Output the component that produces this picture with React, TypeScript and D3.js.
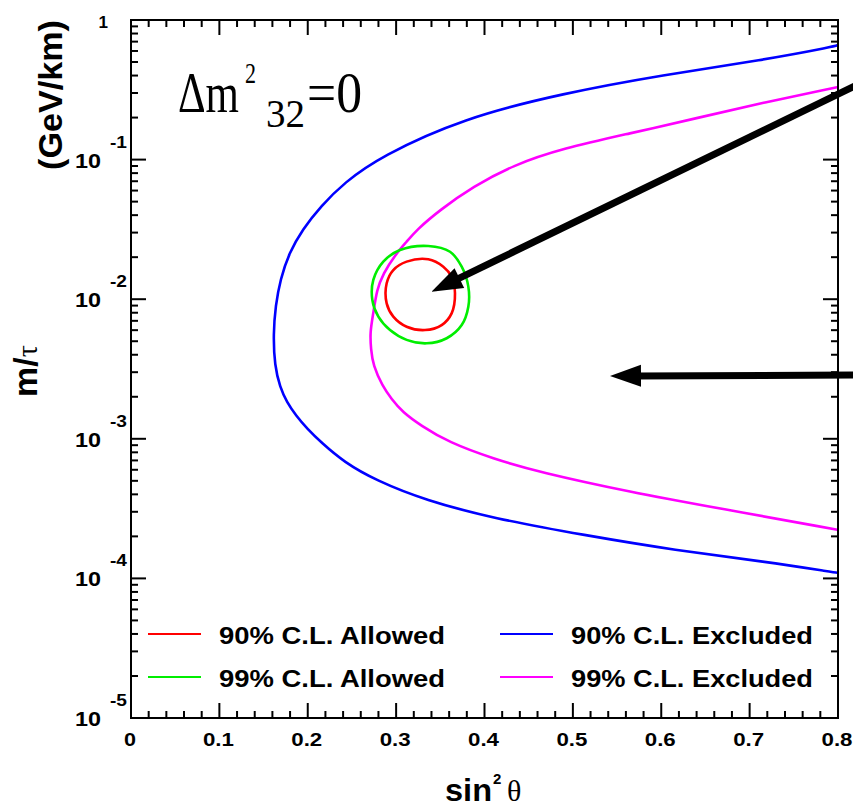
import React from "react";
import * as d3 from "d3";

// ---- data (sin^2θ, m/τ in GeV/km) ----
const excluded90: [number, number][] = [
  [0.8, 0.661], [0.796, 0.646], [0.7155, 0.517], [0.602, 0.404], [0.489, 0.2985],
  [0.376, 0.198], [0.2818, 0.105], [0.241, 0.0681], [0.215, 0.0465], [0.194, 0.0316],
  [0.179, 0.0215], [0.169, 0.0139], [0.1635, 0.00895], [0.161, 0.00562], [0.1625, 0.00334],
  [0.1686, 0.00234], [0.1763, 0.00183], [0.1866, 0.00147], [0.1995, 0.001178], [0.2149, 0.000946],
  [0.241, 0.000681], [0.277, 0.000504], [0.333, 0.000363], [0.41, 0.000269], [0.513, 0.000204],
  [0.616, 0.000159], [0.719, 0.0001315], [0.796, 0.0001104], [0.8, 0.0001096],
];
const excluded99: [number, number][] = [
  [0.8, 0.331], [0.793, 0.324], [0.7155, 0.256], [0.64, 0.198], [0.5646, 0.154],
  [0.489, 0.1205], [0.4326, 0.0914], [0.387, 0.064], [0.3496, 0.0436], [0.323, 0.0313],
  [0.3119, 0.0258], [0.2987, 0.0207], [0.2855, 0.0153], [0.278, 0.01164], [0.2742, 0.00792],
  [0.2704, 0.00578], [0.2715, 0.0044], [0.274, 0.00334], [0.2844, 0.0024], [0.2947, 0.00193],
  [0.3074, 0.00155], [0.328, 0.001245], [0.359, 0.000946], [0.41, 0.000719], [0.4618, 0.000578],
  [0.5646, 0.000416], [0.6675, 0.000316], [0.796, 0.000225], [0.8, 0.000223],
];
const allowed90: [number, number][] = [
  [0.3364, 0.01932], [0.3534, 0.0171], [0.3628, 0.01449], [0.3666, 0.01102], [0.3628, 0.00792],
  [0.3515, 0.00653], [0.3327, 0.00601], [0.3119, 0.00635], [0.2968, 0.0075], [0.2893, 0.00933],
  [0.2893, 0.013], [0.2968, 0.01618], [0.3119, 0.01858],
];
const allowed99: [number, number][] = [
  [0.3364, 0.02404], [0.361, 0.02188], [0.3742, 0.0171], [0.3817, 0.0123], [0.3817, 0.00883],
  [0.3742, 0.00653], [0.3572, 0.00525], [0.3346, 0.00483], [0.3119, 0.00511], [0.2931, 0.00601],
  [0.2799, 0.0075], [0.2731, 0.00986], [0.2742, 0.01374], [0.2855, 0.01858], [0.3044, 0.02249],
];
const xTicks = [0, 0.1, 0.2, 0.3, 0.4, 0.5, 0.6, 0.7, 0.8];
const xTickLabels = ["0", "0.1", "0.2", "0.3", "0.4", "0.5", "0.6", "0.7", "0.8"];
const yDecades = [1e-5, 1e-4, 1e-3, 1e-2, 1e-1, 1];
const yExponents = ["-5", "-4", "-3", "-2", "-1", "0"];
const legendLabels = ["90% C.L. Allowed", "99% C.L. Allowed", "90% C.L. Excluded", "99% C.L. Excluded"];
const legendColors = ["#ff0000", "#00ee00", "#0000ff", "#ff00ff"];
// annotation arrows: [start, tip] in data coordinates
const arrows: [[number, number], [number, number]][] = [
  [[0.8192, 0.3367], [0.34, 0.01132]],
  [[0.8192, 0.00286], [0.542, 0.002818]],
];

const SANS = "'Liberation Sans', Arial, Helvetica, sans-serif";
const SERIF = "'Liberation Serif', 'Times New Roman', serif";

export default function App() {
  const W = 853, H = 808;
  const L = 131, R = 838, T = 20, B = 718;
  const x = d3.scaleLinear().domain([0, 0.8]).range([L, R]);
  const y = d3.scaleLog().domain([1e-5, 1]).range([B, T]);

  const open = d3.line<[number, number]>().x(d => x(d[0])).y(d => y(d[1])).curve(d3.curveBasis);
  const closed = d3.line<[number, number]>().x(d => x(d[0])).y(d => y(d[1])).curve(d3.curveCatmullRomClosed.alpha(0.5));

  const xMinor = d3.range(0, 0.8001, 0.02).filter(v => Math.abs(v * 10 - Math.round(v * 10)) > 1e-6);
  const yMinor: number[] = [];
  for (let e = -5; e < 0; e++) for (let k = 2; k <= 9; k++) yMinor.push(k * Math.pow(10, e));

  const tickStroke = { stroke: "#000", strokeWidth: 2 };

  return (
    <svg width={W} height={H} style={{ position: "absolute", left: 0, top: 0, background: "#fff" }}>
      <defs>
        <clipPath id="plot">
          <rect x={L} y={T} width={R - L} height={B - T} />
        </clipPath>
      </defs>
      <rect x={0} y={0} width={W} height={H} fill="#fff" />

      {/* curves */}
      <g clipPath="url(#plot)" fill="none" strokeWidth={2.6} strokeLinejoin="round">
        <path d={open(excluded90) || ""} stroke="#0000ff" />
        <path d={open(excluded99) || ""} stroke="#ff00ff" />
        <path d={closed(allowed99) || ""} stroke="#00ee00" />
        <path d={closed(allowed90) || ""} stroke="#ff0000" />
      </g>

      {/* frame */}
      <rect x={L} y={T} width={R - L} height={B - T} fill="none" stroke="#000" strokeWidth={2} />

      {/* x ticks */}
      {xTicks.map(v => (
        <g key={"xt" + v}>
          <line x1={x(v)} x2={x(v)} y1={B} y2={B - 15} {...tickStroke} />
          <line x1={x(v)} x2={x(v)} y1={T} y2={T + 15} {...tickStroke} />
        </g>
      ))}
      {xMinor.map(v => (
        <g key={"xm" + v}>
          <line x1={x(v)} x2={x(v)} y1={B} y2={B - 7} {...tickStroke} />
          <line x1={x(v)} x2={x(v)} y1={T} y2={T + 7} {...tickStroke} />
        </g>
      ))}
      {xTicks.map((v, i) => (
        <text key={"xl" + v} x={x(v) - 1} y={746} textAnchor="middle" fontFamily={SANS} fontWeight="bold" fontSize={18}
          textLength={i === 0 ? 12 : 31} lengthAdjust="spacingAndGlyphs">{xTickLabels[i]}</text>
      ))}

      {/* y ticks */}
      {yDecades.map(v => (
        <g key={"yt" + v}>
          <line x1={L} x2={L + 15} y1={y(v)} y2={y(v)} {...tickStroke} />
          <line x1={R} x2={R - 15} y1={y(v)} y2={y(v)} {...tickStroke} />
        </g>
      ))}
      {yMinor.map(v => (
        <g key={"ym" + v}>
          <line x1={L} x2={L + 7} y1={y(v)} y2={y(v)} {...tickStroke} />
          <line x1={R} x2={R - 7} y1={y(v)} y2={y(v)} {...tickStroke} />
        </g>
      ))}
      {yDecades.map((v, i) =>
        v === 1 ? (
          <text key={"yl" + v} x={108} y={y(v) + 8} textAnchor="end" fontFamily={SANS} fontWeight="bold" fontSize={17}>1</text>
        ) : (
          <g key={"yl" + v}>
            <text x={101} y={y(v) + 8} textAnchor="end" fontFamily={SANS} fontWeight="bold" fontSize={21}
              textLength={26} lengthAdjust="spacingAndGlyphs">10</text>
            <text x={110} y={y(v) - 12} fontFamily={SANS} fontWeight="bold" fontSize={16}
              textLength={17} lengthAdjust="spacingAndGlyphs">{yExponents[i]}</text>
          </g>
        )
      )}

      {/* axis titles */}
      <g fontFamily={SANS} fontWeight="bold">
        <text x={445} y={801} fontSize={32} textLength={47} lengthAdjust="spacingAndGlyphs">sin</text>
        <text x={493} y={784} fontSize={15}>2</text>
        <text x={507} y={801} fontFamily={SERIF} fontWeight="normal" fontSize={30}>θ</text>
      </g>
      <g fontFamily={SANS} fontWeight="bold" fontSize={34}>
        <text transform="translate(37,397) rotate(-90)">
          m/<tspan fontFamily={SERIF} fontWeight="normal" fontSize={30}>τ</tspan>
        </text>
        <text transform="translate(62,170) rotate(-90)" textLength={150} lengthAdjust="spacingAndGlyphs">(GeV/km)</text>
      </g>

      {/* Δm²32 = 0 */}
      <g fontFamily={SERIF}>
        <text x={178} y={112} fontSize={56} textLength={61} lengthAdjust="spacingAndGlyphs">Δm</text>
        <text x={245} y={83} fontSize={30} textLength={11} lengthAdjust="spacingAndGlyphs">2</text>
        <text x={266} y={127} fontSize={41} textLength={39} lengthAdjust="spacingAndGlyphs">32</text>
        <text x={307} y={112} fontSize={56} textLength={55} lengthAdjust="spacingAndGlyphs">=0</text>
      </g>

      {/* legend */}
      {legendLabels.map((lab, i) => {
        const col = i < 2 ? 0 : 1;
        const row = i % 2;
        const lx = col === 0 ? 148 : 500;
        const ly = 634 + row * 43;
        return (
          <g key={lab}>
            <line x1={lx} x2={lx + 53} y1={ly} y2={ly} stroke={legendColors[i]} strokeWidth={2} />
            <text x={lx + 71} y={ly + 10} fontFamily={SANS} fontWeight="bold" fontSize={23}
              textLength={col === 0 ? 226 : 242} lengthAdjust="spacingAndGlyphs">{lab}</text>
          </g>
        );
      })}

      {/* arrows */}
      {arrows.map(([s, t], i) => {
        const sx = x(s[0]), sy = y(s[1]), tx = x(t[0]), ty = y(t[1]);
        const dx = sx - tx, dy = sy - ty;
        const len = Math.hypot(dx, dy);
        const ux = dx / len, uy = dy / len;
        const hl = 31, hw = 11;
        const bx = tx + ux * hl, by = ty + uy * hl;
        const pts = [
          [tx, ty],
          [bx - uy * hw, by + ux * hw],
          [bx + uy * hw, by - ux * hw],
        ];
        return (
          <g key={"ar" + i}>
            <line x1={sx} y1={sy} x2={tx + ux * (hl - 4)} y2={ty + uy * (hl - 4)} stroke="#000" strokeWidth={7} />
            <polygon points={pts.map(p => p.join(",")).join(" ")} fill="#000" />
          </g>
        );
      })}
    </svg>
  );
}
